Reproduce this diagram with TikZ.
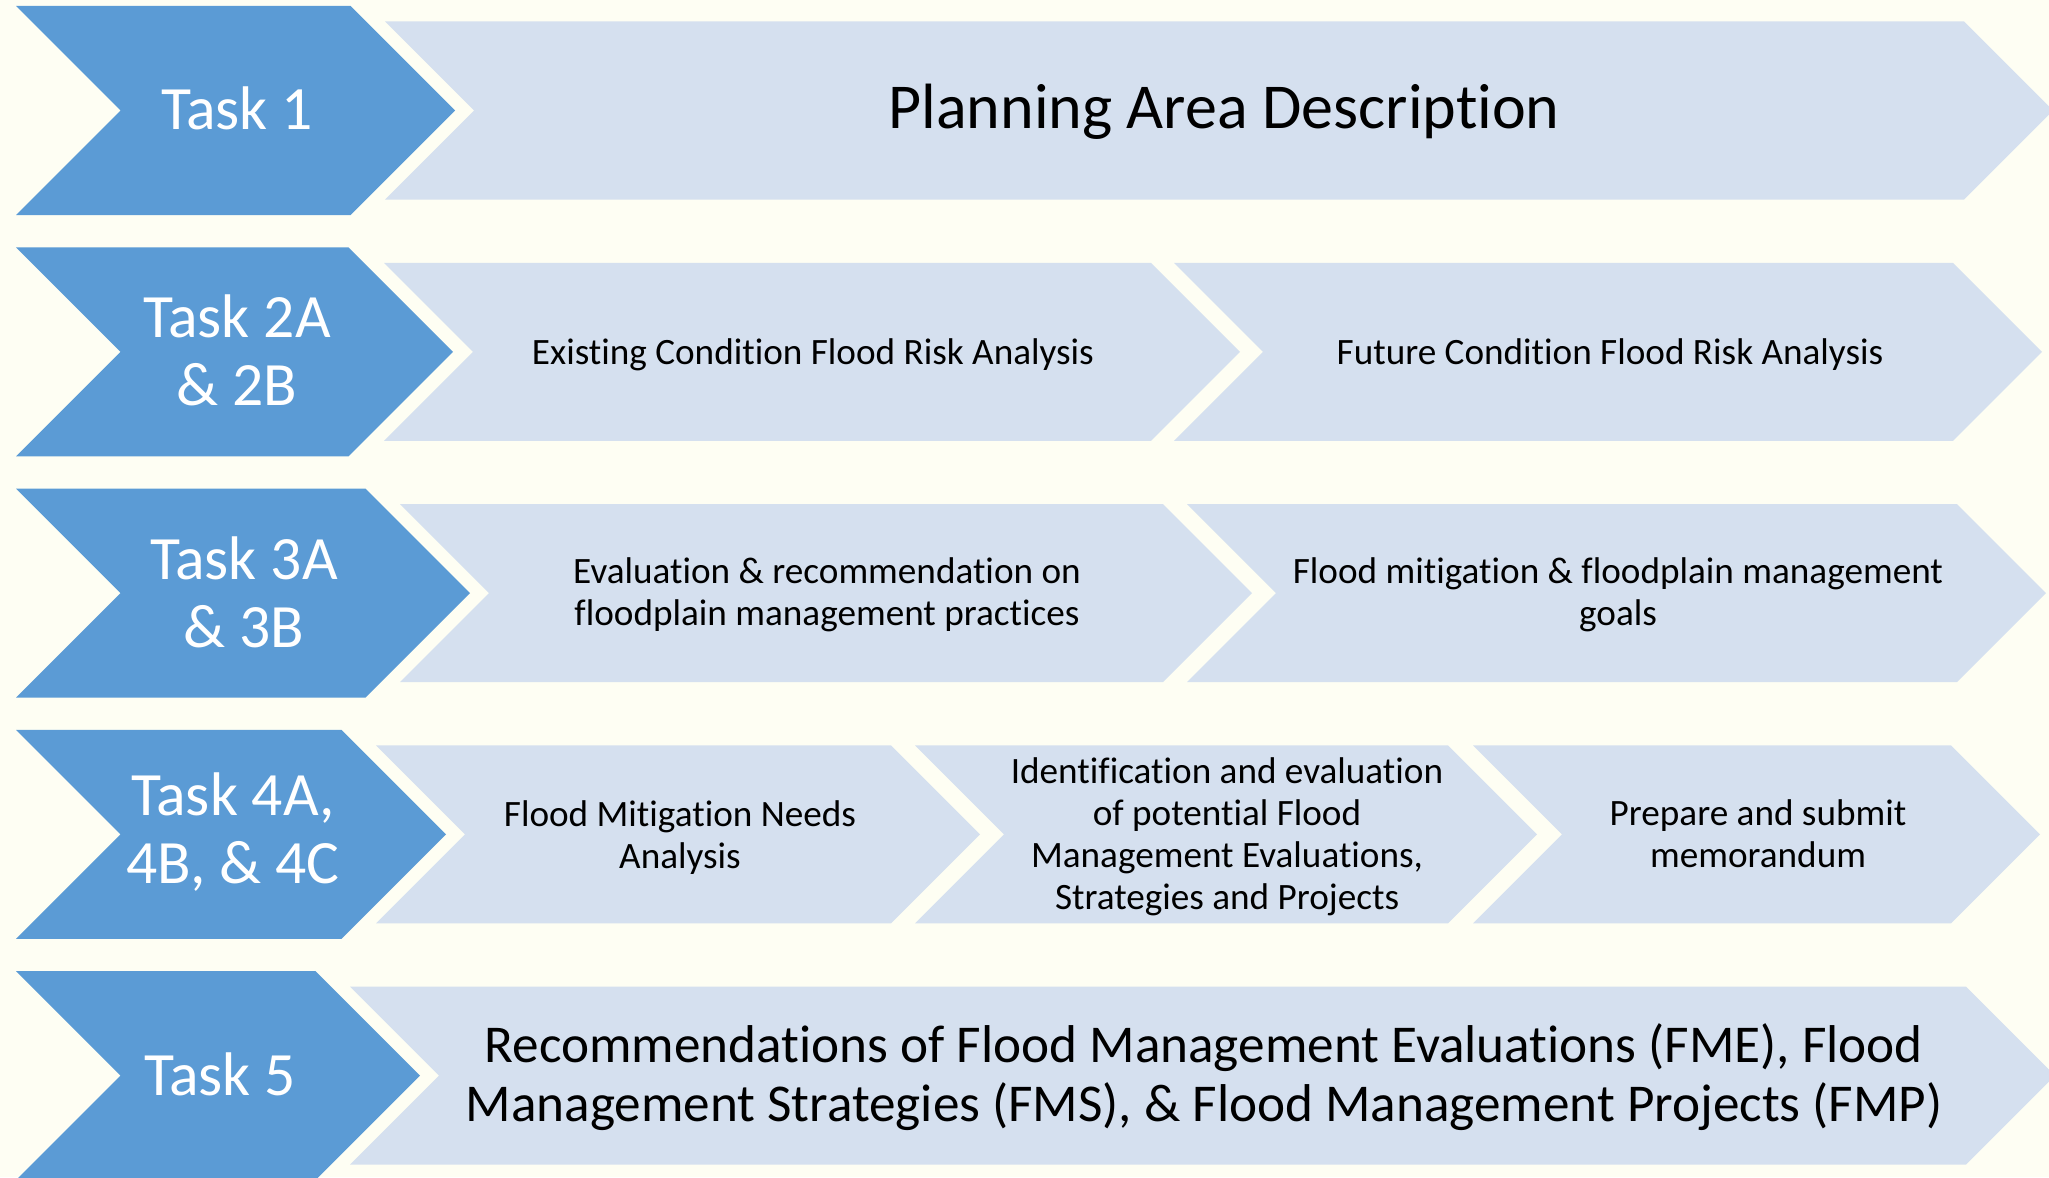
\documentclass[tikz,border=0pt]{standalone}
\usepackage{fontspec}
\setmainfont[Ligatures=CommonOff]{Carlito}
\definecolor{bgcol}{HTML}{FEFEF3}
\definecolor{darkblue}{HTML}{5B9BD5}
\definecolor{lightblue}{HTML}{D5E0EF}
\newcommand\mychev[5]{% style, left x, corner x, center y, half height
  \fill[#1] (#2,#4-#5) -- (#3,#4-#5) -- (#3+#5,#4) -- (#3,#4+#5) -- (#2,#4+#5) -- (#2+#5,#4) -- cycle;}
\tikzset{
  darkchev/.style={darkblue},
  lightchev/.style={lightblue},
  tasklbl/.style={text=white,align=center,font=\fontsize{30.8}{34}\selectfont,inner sep=0pt},
  bigtxt/.style={text=black,align=center,font=\fontsize{32}{38}\selectfont,inner sep=0pt},
  midtxt/.style={text=black,align=center,font=\fontsize{26.6}{29.5}\selectfont,inner sep=0pt},
  smalltxt/.style={text=black,align=center,font=\fontsize{18.6}{21}\selectfont,inner sep=0pt}
}
\begin{document}
\begin{tikzpicture}[x=0.5pt,y=-0.5pt]
\path[use as bounding box] (0,0) rectangle (2049,1177);
\fill[bgcol] (0,0) rectangle (2049,1177);
\clip (0,0) rectangle (2049,1177);
% Row 1
\mychev{darkchev}{16}{350.5}{110.5}{104.5}
\mychev{lightchev}{385}{1964}{110.5}{89}
\node[tasklbl] (t1) at (237,108) {Task 1};
\node[bigtxt] (r1) at (1224,112) {Planning Area Description};
% Row 2
\mychev{darkchev}{16}{348.5}{351.8}{104.5}
\mychev{lightchev}{384}{1151}{351.8}{89}
\mychev{lightchev}{1174}{1953}{351.8}{89}
\node[tasklbl] (t2) at (237,350) {Task 2A\\ \& 2B};
\node[smalltxt] (r2a) at (813,355) {Existing Condition Flood Risk Analysis};
\node[smalltxt] (r2b) at (1610,355) {Future Condition Flood Risk Analysis};
% Row 3
\mychev{darkchev}{16}{365.5}{593.1}{104.5}
\mychev{lightchev}{400}{1163}{593.1}{89}
\mychev{lightchev}{1187}{1957}{593.1}{89}
\node[tasklbl] (t3) at (244,592) {Task 3A\\ \& 3B};
\node[smalltxt] (r3a) at (827,595) {Evaluation \& recommendation on\\ floodplain management practices};
\node[smalltxt] (r3b) at (1618,595) {Flood mitigation \& floodplain management\\ goals};
% Row 4
\mychev{darkchev}{16}{341.5}{834.4}{104.5}
\mychev{lightchev}{376}{891}{834.4}{89}
\mychev{lightchev}{915}{1448}{834.4}{89}
\mychev{lightchev}{1473}{1951}{834.4}{89}
\node[tasklbl] (t4) at (233,832) {Task 4A,\\ 4B, \& 4C};
\node[smalltxt] (r4a) at (680,838) {Flood Mitigation Needs\\ Analysis};
\node[smalltxt] (r4b) at (1227,837) {Identification and evaluation\\ of potential Flood\\ Management Evaluations,\\ Strategies and Projects};
\node[smalltxt] (r4c) at (1758,834) {Prepare and submit\\ memorandum};
% Row 5
\mychev{darkchev}{16}{315.5}{1075.7}{104.5}
\mychev{lightchev}{350}{1966}{1075.7}{89}
\node[tasklbl] (t5) at (220,1074) {Task 5};
\node[midtxt] (r5) at (1204,1077) {Recommendations of Flood Management Evaluations (FME), Flood\\ Management Strategies (FMS), \& Flood Management Projects (FMP)};
\end{tikzpicture}
\end{document}
